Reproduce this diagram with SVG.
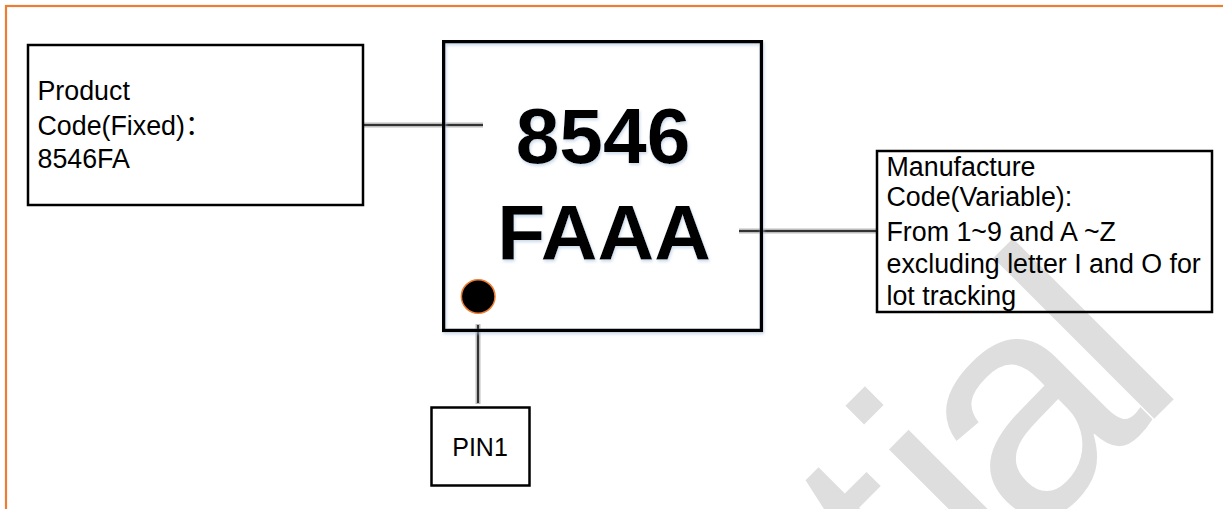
<svg xmlns="http://www.w3.org/2000/svg" width="1223" height="509" viewBox="0 0 1223 509">
  <defs>
    <style>
      .lbl { font-family: "Liberation Sans", Arial, "Noto Sans CJK SC", sans-serif; font-size: 26.8px; fill: #000; }
      .box { fill: none; stroke: #000; stroke-width: 2.5; }
      .mark { font-family: "Liberation Sans", Arial, sans-serif; font-weight: 700; font-size: 78.5px; fill: #000; text-anchor: middle; }
      .halo { stroke: #bcbcbc; stroke-width: 5; fill: none; }
      .core { stroke: #333; stroke-width: 2; fill: none; }
      .wm { font-family: "Liberation Sans", Arial, sans-serif; font-size: 314px; fill: #dedede; }
    </style>
    <filter id="glow" x="-10%" y="-10%" width="120%" height="120%">
      <feDropShadow dx="1" dy="2" stdDeviation="1.5" flood-color="#a9c1dd" flood-opacity="0.6"/>
    </filter>
  </defs>
  <rect width="1223" height="509" fill="#fff"/>
  <rect x="6" y="6" width="1240" height="520" fill="none" stroke="#ED7D31" stroke-width="2.2"/>

  <g id="watermark" transform="translate(1164,409) rotate(-45)">
    <text class="wm" x="-337 -244 -190 -35" y="0">tial</text>
  </g>

  <g id="connectors">
    <line class="halo" x1="363" y1="125" x2="483" y2="125"/>
    <line class="core" x1="363" y1="125" x2="483" y2="125"/>
    <line class="halo" x1="739" y1="231" x2="877" y2="231"/>
    <line class="core" x1="739" y1="231" x2="877" y2="231"/>
    <line class="halo" x1="478" y1="324" x2="478" y2="404"/>
    <line class="core" x1="478" y1="325" x2="478" y2="403"/>
  </g>

  <g id="chip">
    <rect x="443.7" y="41.7" width="317.7" height="288.7" fill="none" stroke="#000" stroke-width="3.4" filter="url(#glow)"/>
    <text class="mark" x="603" y="163.3" filter="url(#glow)">8546</text>
    <text class="mark" x="604" y="260" filter="url(#glow)">FAAA</text>
    <circle cx="478.2" cy="296.5" r="16.8" fill="#000" stroke="#ED7D31" stroke-width="1.5"/>
  </g>

  <g id="product-code">
    <rect class="box" x="28" y="45" width="335" height="160"/>
    <text class="lbl" x="37.5" y="100">Product</text>
    <text class="lbl" x="37.5" y="135">Code(Fixed)：</text>
    <text class="lbl" x="37.5" y="167.7">8546FA</text>
  </g>

  <g id="manufacture-code">
    <rect class="box" x="877" y="151" width="335" height="161"/>
    <text class="lbl" x="886.5" y="175.5">Manufacture</text>
    <text class="lbl" x="886.5" y="206">Code(Variable):</text>
    <text class="lbl" x="886.5" y="240.5">From 1~9 and A ~Z</text>
    <text class="lbl" x="886.5" y="273">excluding letter I and O for</text>
    <text class="lbl" x="886.5" y="305">lot tracking</text>
  </g>

  <g id="pin1">
    <rect class="box" x="431.5" y="407.5" width="98" height="78"/>
    <text class="lbl" x="480" y="456" text-anchor="middle" style="font-size:25px">PIN1</text>
  </g>
</svg>
